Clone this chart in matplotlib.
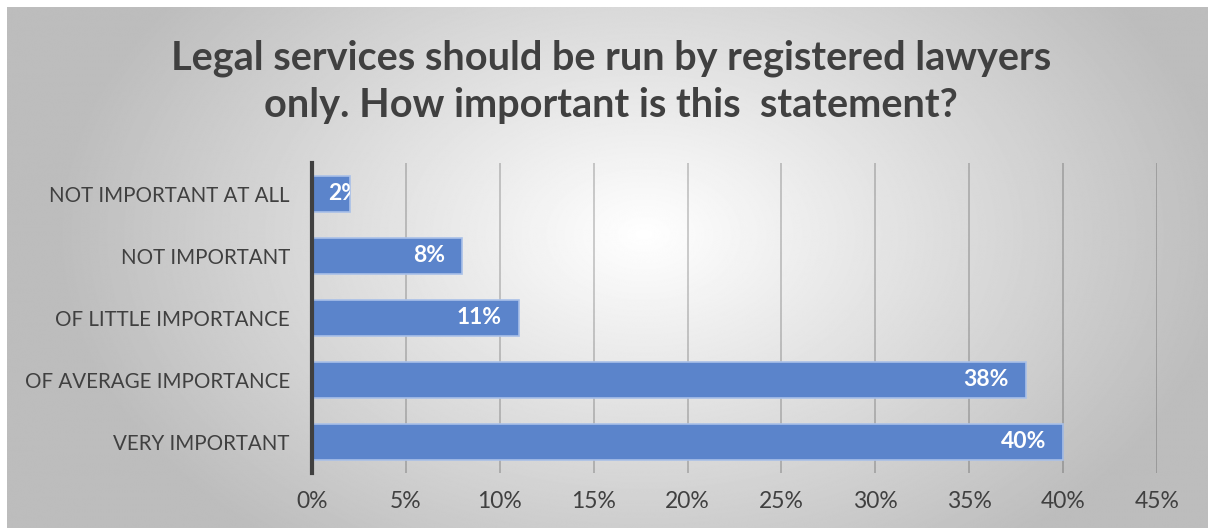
"""
Horizontal bar chart: importance of legal services run by registered lawyers.
"""

import matplotlib
matplotlib.use("Agg")
import matplotlib.pyplot as plt
import numpy as np
from matplotlib.transforms import Bbox, TransformedBbox

# Data ##################################
categories = ["VERY IMPORTANT", "OF AVERAGE IMPORTANCE", "OF LITTLE IMPORTANCE",
              "NOT IMPORTANT", "NOT IMPORTANT AT ALL"]
values = [40, 38, 11, 8, 2]
ticks = [0, 5, 10, 15, 20, 25, 30, 35, 40, 45]
tick_labels = [f"{t}%" for t in ticks]
title = "Legal services should be run by registered lawyers\nonly. How important is this  statement?"

FONT = ["Lato", "DejaVu Sans"]
TEXT_COLOR = "#404040"
BAR_COLOR = "#5b84cb"
BAR_H = 0.58

W, H = 1208, 528
fig = plt.figure(figsize=(W / 100, H / 100), dpi=100)
fig.patch.set_facecolor("white")

# Radial gradient background (white centre, gray edges)
bg = fig.add_axes([7 / W, 0, 1 - 7 / W, 1 - 7 / H])
yy, xx = np.mgrid[0:H, 0:W]
cx, cy = 640, 230
r = np.sqrt(((xx - cx) / 680.0) ** 2 + ((yy - cy) / 460.0) ** 2)
shade = np.clip(1.0 - 0.30 * r, 0.74, 1.0)
bg.imshow(shade, cmap="gray", vmin=0, vmax=1, aspect="auto",
          interpolation="bilinear")
bg.set_axis_off()

# Main axes
ax = fig.add_axes([312 / W, 1 - 473 / H, (1157 - 312) / W, (473 - 163) / H])
ax.set_facecolor("none")

y = np.arange(len(categories))
ax.barh(y, values, height=BAR_H, color=BAR_COLOR, edgecolor="#a9c0e8",
        linewidth=1.2, zorder=3)

for yi, v in zip(y, values):
    if v < 5:
        # label too wide for the bar: starts at the axis and is cut at bar end
        t = ax.text(0.85, yi, f"{v}%", ha="left", va="center", color="white",
                    fontsize=16.5, fontweight="bold", family=FONT, zorder=4)
        t.set_clip_box(TransformedBbox(
            Bbox([[0, yi - BAR_H / 2], [v, yi + BAR_H / 2]]), ax.transData))
        t.set_clip_on(True)
    else:
        ax.text(v - 0.9, yi, f"{v}%", ha="right", va="center", color="white",
                fontsize=16.5, fontweight="bold", family=FONT, zorder=4)

ax.set_xlim(0, 45)
ax.set_ylim(-0.5, len(categories) - 0.5)
ax.set_xticks(ticks)
ax.set_xticklabels(tick_labels)
ax.set_yticks(y)
ax.set_yticklabels(categories)
ax.tick_params(axis="both", length=0, labelcolor=TEXT_COLOR)
ax.tick_params(axis="x", pad=13, labelsize=16.5)
ax.tick_params(axis="y", pad=16, labelsize=14.8)
for lbl in ax.get_xticklabels() + ax.get_yticklabels():
    lbl.set_family(FONT)

ax.grid(axis="x", color="black", alpha=0.22, linewidth=1.2, zorder=1)
for s in ["top", "right", "bottom"]:
    ax.spines[s].set_visible(False)
ax.spines["left"].set_color(TEXT_COLOR)
ax.spines["left"].set_linewidth(3)
ax.spines["left"].set_zorder(5)

fig.text(0.506, 1 - 82 / H, title, ha="center", va="center", fontsize=28.5,
         fontweight="bold", color=TEXT_COLOR, family=FONT, linespacing=1.35)

fig.savefig("out.png", dpi=100)
